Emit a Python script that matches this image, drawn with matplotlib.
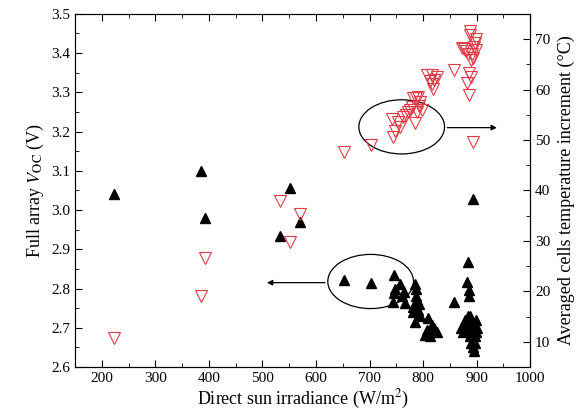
import matplotlib
matplotlib.use("Agg")
import matplotlib.pyplot as plt
from matplotlib.patches import Ellipse
from matplotlib.ticker import MultipleLocator

plt.rcParams['font.family'] = ['Liberation Serif', 'DejaVu Serif']
plt.rcParams['mathtext.fontset'] = 'stix'

# Full array Voc (left axis, black filled triangles)
voc_x = [222, 385, 392, 552, 533, 571, 652, 702, 745, 757, 748, 746, 765, 743, 766, 760,
         785, 786, 787, 789, 781, 781, 785, 790, 792, 795, 810, 816, 807, 820, 804, 812, 825,
         858, 883, 882, 885, 885, 894,
         870, 875, 878, 880, 883, 885, 887, 888, 890, 892, 893, 895, 897, 898, 890, 893, 895,
         888, 896, 900, 899]
voc_y = [3.04, 3.10, 2.98, 3.057, 2.935, 2.97, 2.822, 2.815, 2.835, 2.812, 2.80, 2.788, 2.79, 2.767, 2.763, 2.78,
         2.812, 2.80, 2.78, 2.77, 2.754, 2.74, 2.716, 2.746, 2.76, 2.73, 2.724, 2.707, 2.694, 2.70, 2.682, 2.678, 2.69,
         2.767, 2.868, 2.817, 2.796, 2.78, 3.027,
         2.70, 2.69, 2.72, 2.71, 2.73, 2.70, 2.68, 2.72, 2.69, 2.71, 2.67, 2.70, 2.68, 2.72, 2.66, 2.65, 2.64,
         2.73, 2.66, 2.70, 2.69]

# Averaged cells temperature increment (right axis, red open triangles)
temp_x = [222, 386, 393, 533, 552, 571, 653, 703, 744, 748, 742, 754, 757, 763, 768, 772, 776, 779,
          782, 786, 790, 785, 792, 795, 797, 788, 807, 813, 816, 817, 821, 825, 818, 857, 872, 876,
          880, 884, 888, 888, 892, 894, 897, 899, 895, 898, 885, 890, 882, 885, 893, 890]
temp_y = [10.8, 19.0, 26.7, 37.9, 29.7, 35.4, 47.7, 49.1, 50.5, 51.7, 54.2, 53.6, 52.5, 54.6, 55.0, 55.6, 56.0, 56.6,
          58.3, 58.4, 58.5, 53.4, 56.7, 57.5, 56.0, 55.5, 62.9, 61.6, 61.0, 62.9, 61.9, 62.5, 60.2, 63.9, 68.2, 68.0,
          67.7, 67.0, 71.5, 70.9, 67.1, 66.2, 69.2, 70.0, 68.5, 67.8, 63.2, 62.5, 61.2, 58.9, 49.5, 65.8]

fig = plt.figure(figsize=(5.82, 4.19), dpi=100)
ax = fig.add_axes([0.129, 0.124, 0.782, 0.843])
ax2 = ax.twinx()

ax.plot(voc_x, voc_y, linestyle='none', marker='^', markersize=6.5, color='black')
ax2.plot(temp_x, temp_y, linestyle='none', marker='v', markersize=8, markerfacecolor='none',
         markeredgecolor='#e23a46', markeredgewidth=0.8)

ax.set_xlim(150, 1000)
ax.set_ylim(2.6, 3.5)
ax2.set_ylim(5, 75)

ax.xaxis.set_major_locator(MultipleLocator(100))
ax.xaxis.set_minor_locator(MultipleLocator(50))
ax.yaxis.set_major_locator(MultipleLocator(0.1))
ax.yaxis.set_minor_locator(MultipleLocator(0.05))
ax2.yaxis.set_major_locator(MultipleLocator(10))
ax2.yaxis.set_minor_locator(MultipleLocator(5))
ax.set_xticks(range(200, 1001, 100))
ax.yaxis.set_major_formatter(matplotlib.ticker.FormatStrFormatter('%.1f'))

ax.tick_params(axis='both', which='both', direction='in', top=True, labelsize=11)
ax.tick_params(which='major', length=5)
ax.tick_params(which='minor', length=3)
ax2.tick_params(axis='y', which='both', direction='in', labelsize=11)
ax2.tick_params(which='major', length=5)
ax2.tick_params(which='minor', length=3)

ax.set_xlabel('Direct sun irradiance (W/m$^2$)', fontsize=13, labelpad=2)
ax.set_ylabel('Full array $V_{\\rm OC}$ (V)', fontsize=13, labelpad=4)
ax2.set_ylabel('Averaged cells temperature increment (°C)', fontsize=13, labelpad=5)

# Annotations
ax.add_patch(Ellipse((760, 3.212), 160, 0.138, fill=False, edgecolor='black', linewidth=0.9, zorder=5))
ax.add_patch(Ellipse((702, 2.818), 160, 0.138, fill=False, edgecolor='black', linewidth=0.9, zorder=5))
ax.annotate('', xy=(943, 3.21), xytext=(840, 3.21),
            arrowprops=dict(arrowstyle='-|>', color='black', lw=0.9, mutation_scale=8))
ax.annotate('', xy=(503, 2.815), xytext=(622, 2.815),
            arrowprops=dict(arrowstyle='-|>', color='black', lw=0.9, mutation_scale=8))

fig.savefig('out.png', dpi=100)
